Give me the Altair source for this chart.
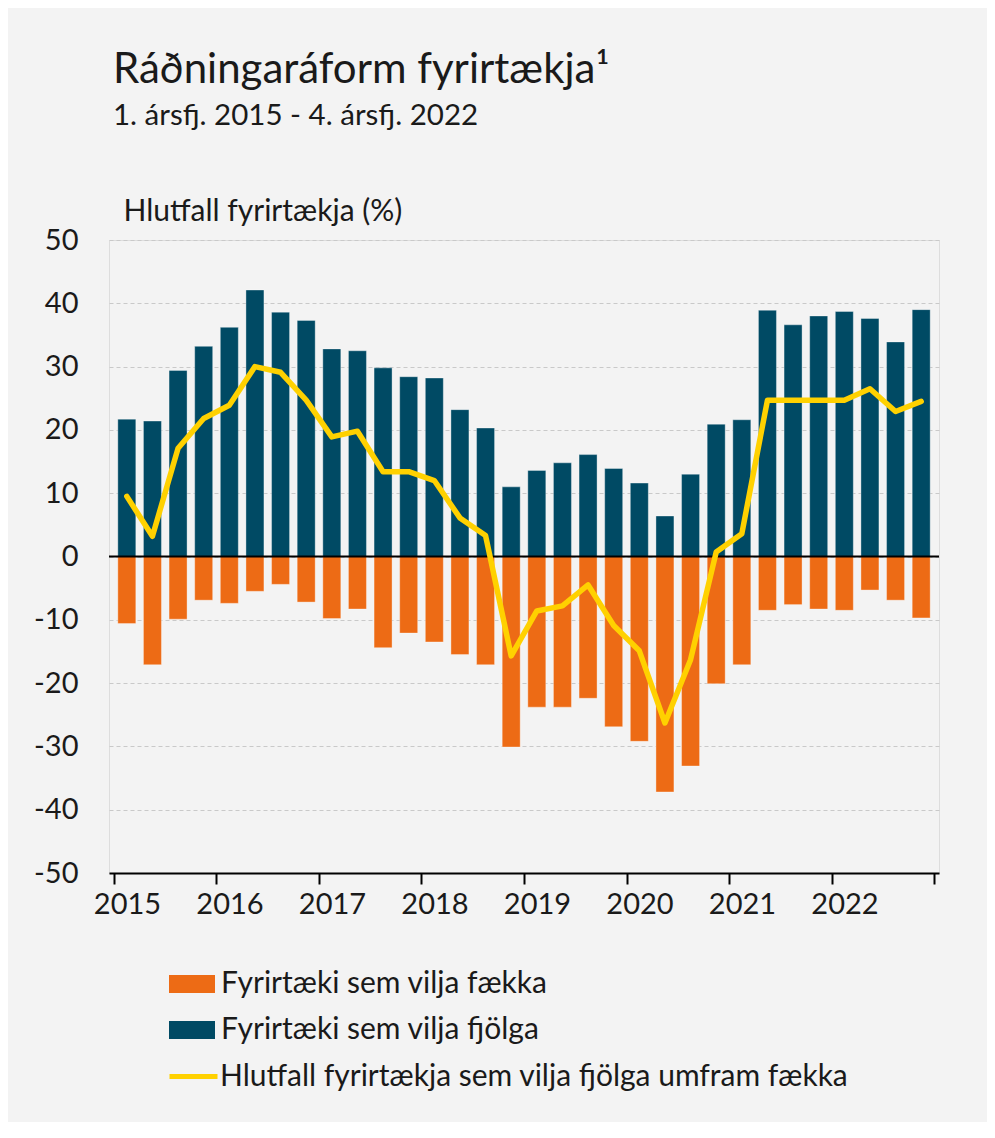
import altair as alt
import pandas as pd

# ---- data ----
years = list(range(2015, 2023))
quarters = [1, 2, 3, 4]
fjolga = [21.7, 21.4, 29.4, 33.2, 36.2, 42.1, 38.6, 37.3,
          32.8, 32.5, 29.8, 28.4, 28.2, 23.2, 20.3, 11.0,
          13.6, 14.8, 16.1, 13.9, 11.6, 6.4, 13.0, 20.9,
          21.6, 38.9, 36.6, 38.0, 38.7, 37.6, 33.9, 39.0]
faekka = [-10.6, -17.1, -9.9, -6.9, -7.4, -5.5, -4.4, -7.2,
          -9.8, -8.3, -14.4, -12.1, -13.5, -15.5, -17.1, -30.1,
          -23.8, -23.8, -22.4, -26.9, -29.2, -37.2, -33.1, -20.1,
          -17.1, -8.5, -7.6, -8.3, -8.5, -5.3, -6.9, -9.7]
netto = [9.5, 3.2, 17.1, 21.8, 23.9, 30.0, 29.1, 24.7,
         18.9, 19.8, 13.4, 13.4, 12.0, 6.1, 3.3, -15.7,
         -8.6, -7.8, -4.5, -10.9, -14.9, -26.3, -16.3, 0.7,
         3.6, 24.7, 24.7, 24.7, 24.7, 26.5, 22.9, 24.5]
year_ticks = list(range(2015, 2024))
y_ticks = list(range(-50, 60, 10))

S_DOWN = "Fyrirtæki sem vilja fækka"
S_UP = "Fyrirtæki sem vilja fjölga"
S_NET = "Hlutfall fyrirtækja sem vilja fjölga umfram fækka"

ORANGE = "#ED6B15"
NAVY = "#004A64"
YELLOW = "#FFD100"
BG = "#F3F3F3"
TXT = "#1a1a1a"
FONT = "Lato"

# quarter centre on a continuous year axis
t = [y + (q - 1) / 4 + 0.125 for y in years for q in quarters]

bars = pd.DataFrame({
    "t": t * 2,
    "value": faekka + fjolga,
    "series": [S_DOWN] * len(t) + [S_UP] * len(t),
})
line = pd.DataFrame({"t": t, "net": netto, "s": [S_NET] * len(t)})
zero = pd.DataFrame({"v": [0]})

x_enc = alt.X(
    "t:Q",
    scale=alt.Scale(domain=[2015, 2023], nice=False, zero=False),
    axis=alt.Axis(
        values=year_ticks, format="d",
        labelExpr="datum.value < 2023 ? datum.label : ''",
        labelOffset=13, tickSize=11, tickWidth=2, tickColor="black",
        domainColor="black", domainWidth=2, grid=False,
        labelFontSize=29, labelPadding=6, labelColor=TXT, labelFont=FONT,
        title=None,
    ),
)


def y_enc(field):
    return alt.Y(
        field,
        scale=alt.Scale(domain=[-50, 50], nice=False),
        axis=alt.Axis(
            values=y_ticks, grid=True, gridDash=[4, 3], gridColor="#c9c9c9",
            gridWidth=1, domain=False, ticks=False, labelPadding=31,
            labelExpr="'' + datum.value",
            labelFontSize=29, labelColor=TXT, labelFont=FONT,
            title="Hlutfall fyrirtækja (%)", titleAngle=0, titleX=14, titleY=-20,
            titleAlign="left", titleBaseline="alphabetic", titleFontSize=30,
            titleFontWeight="normal", titleColor=TXT, titleFont=FONT,
        ),
    )


bar_layer = alt.Chart(bars).mark_bar(
    width=18, stroke="white", strokeOpacity=0.35, strokeWidth=1
).encode(
    x=x_enc,
    y=y_enc("value:Q"),
    fill=alt.Fill(
        "series:N",
        scale=alt.Scale(domain=[S_DOWN, S_UP], range=[ORANGE, NAVY]),
        legend=alt.Legend(
            title=None, orient="none", legendX=60, legendY=721,
            direction="vertical", symbolType="M-1,-0.39H1V0.39H-1Z",
            symbolSize=2116, symbolStrokeWidth=0, labelFontSize=30,
            labelOffset=6, rowPadding=8, labelFont=FONT, labelColor=TXT,
            labelLimit=0,
        ),
    ),
)

zero_layer = alt.Chart(zero).mark_rule(color="black", strokeWidth=2).encode(
    y=y_enc("v:Q")
)

line_layer = alt.Chart(line).mark_line(
    strokeWidth=5.5, strokeCap="round", strokeJoin="round"
).encode(
    x=x_enc,
    y=y_enc("net:Q"),
    stroke=alt.Stroke(
        "s:N",
        scale=alt.Scale(domain=[S_NET], range=[YELLOW]),
        legend=alt.Legend(
            title=None, orient="none", legendX=58, legendY=810,
            symbolType="stroke", symbolSize=2304, symbolStrokeWidth=5,
            labelFontSize=30, labelOffset=0, labelFont=FONT,
            labelColor=TXT, labelLimit=0,
        ),
    ),
)

chart = alt.layer(bar_layer, zero_layer, line_layer).properties(
    width=830,
    height=633,
    autosize="none",
    padding={"left": 101, "top": 232, "right": 48, "bottom": 249},
    background=BG,
    title=alt.Title(
        text="Ráðningaráform fyrirtækja¹",
        subtitle="1. ársfj. 2015 - 4. ársfj. 2022",
        anchor="start", frame="group", dx=4, offset=65,
        fontSize=42, fontWeight="normal", color=TXT, font=FONT,
        subtitleFontSize=29.5, subtitleColor=TXT, subtitleFont=FONT,
        subtitlePadding=10,
    ),
).configure_view(stroke=None).configure(font=FONT)

chart.save("out.html", embed_options={"renderer": "svg", "actions": False})
